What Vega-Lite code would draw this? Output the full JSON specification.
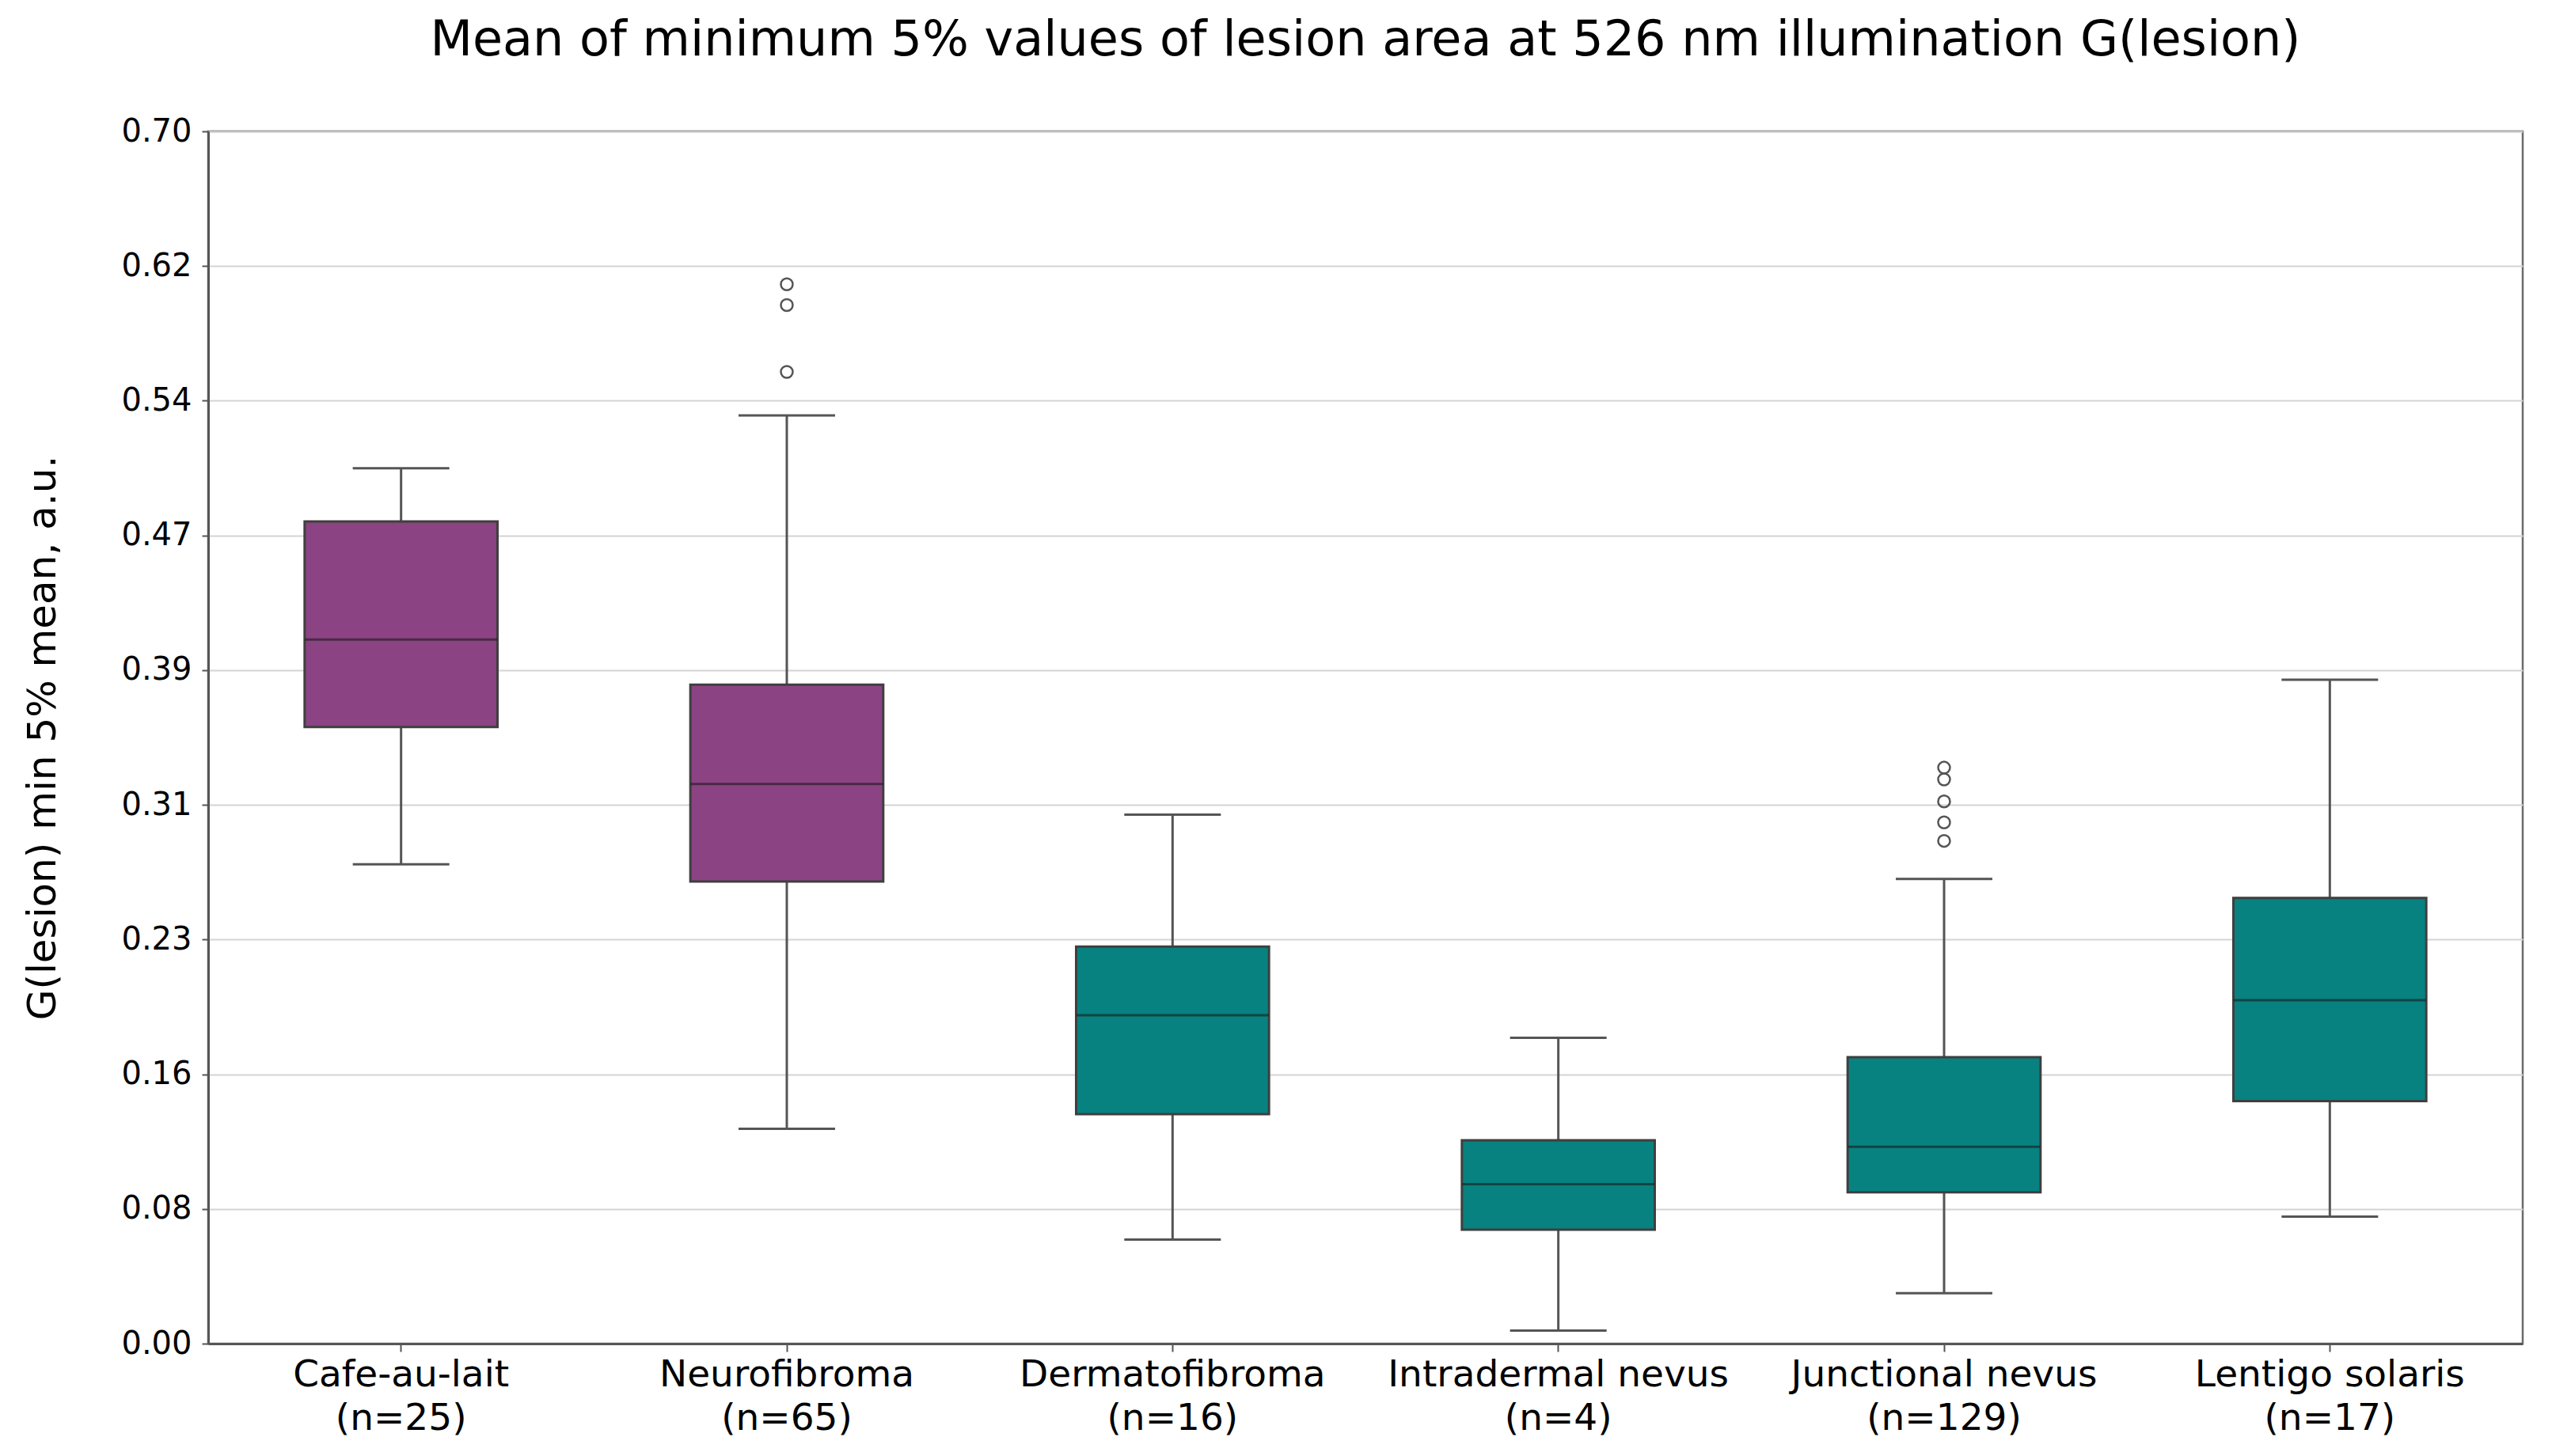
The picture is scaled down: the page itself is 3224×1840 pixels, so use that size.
{
  "$schema": "https://vega.github.io/schema/vega-lite/v6.json",
  "autosize": "none",
  "width": 2924,
  "height": 1532,
  "padding": {"left": 263, "top": 166, "right": 37, "bottom": 142},
  "background": "white",
  "title": {
    "text": "Mean of minimum 5% values of lesion area at 526 nm illumination G(lesion)",
    "font": "DejaVu Sans",
    "fontSize": 62,
    "fontWeight": "normal",
    "color": "#000000",
    "anchor": "middle",
    "frame": "group",
    "baseline": "bottom",
    "offset": 1
  },
  "config": {
    "view": {"stroke": "#6b6b6b", "strokeWidth": 2.5},
    "axis": {
      "labelFont": "DejaVu Sans",
      "titleFont": "DejaVu Sans",
      "labelColor": "#000000",
      "titleColor": "#000000",
      "titleFontWeight": "normal",
      "domainColor": "#555555",
      "domainWidth": 3,
      "tickColor": "#555555",
      "tickWidth": 2,
      "labelLimit": 0
    }
  },
  "datasets": {
    "boxes": [
      {"lesion": "Cafe-au-lait (n=25)", "group": "NF1-associated", "lower": 0.2768, "q1": 0.3561, "median": 0.4065, "q3": 0.4747, "upper": 0.5055},
      {"lesion": "Neurofibroma (n=65)", "group": "NF1-associated", "lower": 0.1240, "q1": 0.2668, "median": 0.3232, "q3": 0.3805, "upper": 0.5360},
      {"lesion": "Dermatofibroma (n=16)", "group": "Other", "lower": 0.0601, "q1": 0.1325, "median": 0.1896, "q3": 0.2293, "upper": 0.3054},
      {"lesion": "Intradermal nevus (n=4)", "group": "Other", "lower": 0.0075, "q1": 0.0658, "median": 0.0921, "q3": 0.1174, "upper": 0.1766},
      {"lesion": "Junctional nevus (n=129)", "group": "Other", "lower": 0.0291, "q1": 0.0874, "median": 0.1137, "q3": 0.1654, "upper": 0.2683},
      {"lesion": "Lentigo solaris (n=17)", "group": "Other", "lower": 0.0733, "q1": 0.1400, "median": 0.1983, "q3": 0.2574, "upper": 0.3834}
    ],
    "outliers": [
      {"lesion": "Neurofibroma (n=65)", "value": 0.5611},
      {"lesion": "Neurofibroma (n=65)", "value": 0.5997},
      {"lesion": "Neurofibroma (n=65)", "value": 0.6117},
      {"lesion": "Junctional nevus (n=129)", "value": 0.2903},
      {"lesion": "Junctional nevus (n=129)", "value": 0.3010},
      {"lesion": "Junctional nevus (n=129)", "value": 0.3131},
      {"lesion": "Junctional nevus (n=129)", "value": 0.3258},
      {"lesion": "Junctional nevus (n=129)", "value": 0.3326}
    ]
  },
  "encoding": {
    "x": {
      "field": "lesion",
      "type": "nominal",
      "scale": {
        "domain": ["Cafe-au-lait (n=25)", "Neurofibroma (n=65)", "Dermatofibroma (n=16)", "Intradermal nevus (n=4)", "Junctional nevus (n=129)", "Lentigo solaris (n=17)"],
        "paddingInner": 0,
        "paddingOuter": 0
      },
      "axis": {
        "title": null,
        "labelAngle": 0,
        "labelFontSize": 47,
        "labelLineHeight": 55,
        "labelBaseline": "top",
        "labelPadding": 6,
        "labelLimit": 0,
        "tickSize": 10,
        "grid": false,
        "labelExpr": "[slice(datum.label, 0, indexof(datum.label, ' (')), slice(datum.label, indexof(datum.label, ' (') + 1)]"
      }
    }
  },
  "layer": [
    {
      "data": {"name": "boxes"},
      "mark": {"type": "rule", "color": "#555555", "strokeWidth": 3},
      "encoding": {
        "y": {
          "field": "lower",
          "type": "quantitative",
          "scale": {"domain": [0, 0.7], "nice": false, "zero": true},
          "axis": {
            "title": "G(lesion) min 5% mean, a.u.",
            "titleFontSize": 50,
            "titleAngle": -90,
            "titleAlign": "center",
            "titleBaseline": "middle",
            "titleX": -209,
            "titleY": 766,
            "values": [0, 0.0777778, 0.1555556, 0.2333333, 0.3111111, 0.3888889, 0.4666667, 0.5444444, 0.6222222, 0.7],
            "format": ".2f",
            "labelFontSize": 40,
            "labelPadding": 13,
            "tickSize": 8,
            "grid": true,
            "gridColor": "#d4d4d4",
            "gridWidth": 2
          }
        },
        "y2": {"field": "upper"}
      }
    },
    {
      "data": {"name": "boxes"},
      "mark": {"type": "bar", "width": {"band": 0.5}, "stroke": "#3f3f3f", "strokeWidth": 3},
      "encoding": {
        "y": {"field": "q1", "type": "quantitative"},
        "y2": {"field": "q3"},
        "color": {
          "field": "group",
          "type": "nominal",
          "scale": {"domain": ["NF1-associated", "Other"], "range": ["#8B4383", "#078280"]},
          "legend": null
        }
      }
    },
    {
      "data": {"name": "boxes"},
      "mark": {"type": "tick", "color": "#1a1a1a", "opacity": 0.6, "size": 243, "thickness": 3},
      "encoding": {"y": {"field": "median", "type": "quantitative"}}
    },
    {
      "data": {"name": "boxes"},
      "mark": {"type": "tick", "color": "#555555", "opacity": 1, "size": 122, "thickness": 3},
      "encoding": {"y": {"field": "lower", "type": "quantitative"}}
    },
    {
      "data": {"name": "boxes"},
      "mark": {"type": "tick", "color": "#555555", "opacity": 1, "size": 122, "thickness": 3},
      "encoding": {"y": {"field": "upper", "type": "quantitative"}}
    },
    {
      "data": {"name": "outliers"},
      "mark": {"type": "point", "filled": false, "shape": "circle", "stroke": "#555555", "strokeWidth": 2.5, "size": 225, "opacity": 1},
      "encoding": {"y": {"field": "value", "type": "quantitative"}}
    }
  ]
}
